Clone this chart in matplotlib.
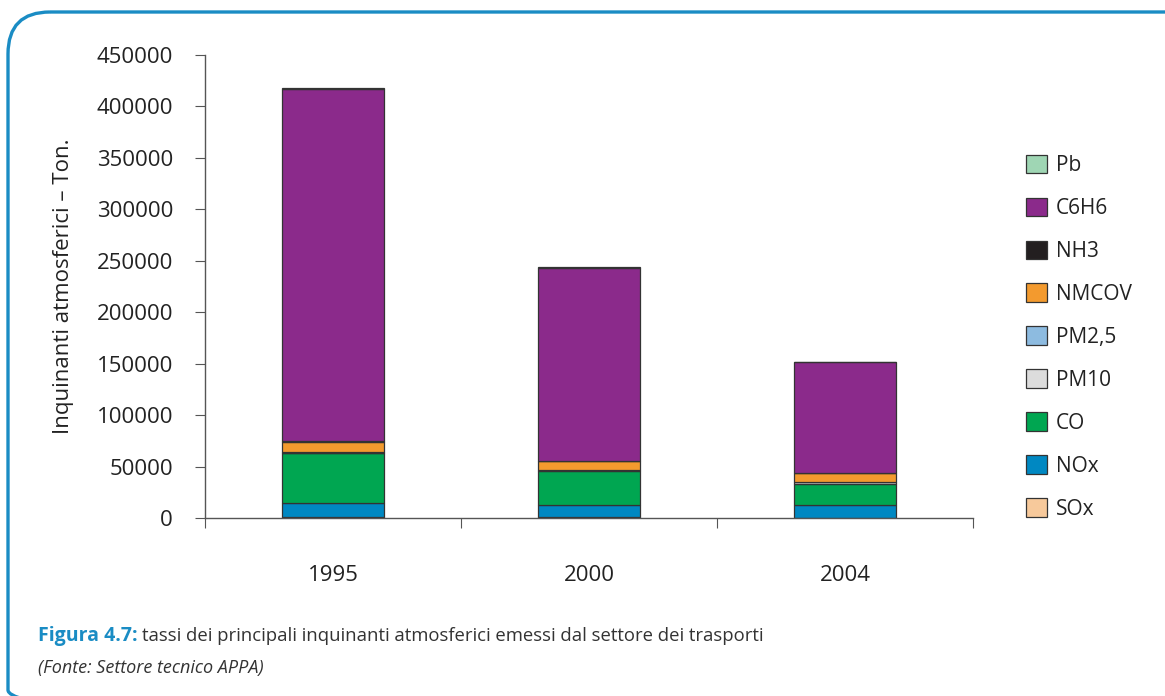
import matplotlib
matplotlib.use("Agg")
import matplotlib.pyplot as plt
import numpy
from matplotlib.patches import FancyBboxPatch

plt.rcParams['font.family'] = ['Open Sans', 'DejaVu Sans']

# data (tonnes)
years = ['1995', '2000', '2004']
pollutants = ['SOx', 'NOx', 'CO', 'PM10', 'PM2,5', 'NMCOV', 'NH3', 'C6H6', 'Pb']
sox = [800, 500, 400]
nox = [14000, 12000, 12000]
co = [48000, 33000, 20500]
pm10 = [800, 700, 1800]
pm25 = [700, 600, 600]
nmcov = [10000, 8500, 8000]
nh3 = [600, 500, 300]
c6h6 = [342000, 187000, 108000]
pb = [1000, 1200, 100]
series = [sox, nox, co, pm10, pm25, nmcov, nh3, c6h6, pb]

colors = ['#f7c99b', '#0088c2', '#00a651', '#dcdcdc', '#8dbbe0',
          '#f39a2e', '#231f20', '#8b2a8b', '#9fd6b4']

W, H = 1165, 696
fig = plt.figure(figsize=(W / 100, H / 100), dpi=100)

# blue rounded frame
frame = fig.add_axes([0, 0, 1, 1])
frame.set_xlim(0, W)
frame.set_ylim(H, 0)
frame.axis('off')
frame.add_patch(FancyBboxPatch((8, 12), 1200, 720, boxstyle='round,pad=0,rounding_size=42',
                               facecolor='none', edgecolor='#1a8cc4', linewidth=2.4))

ax = fig.add_axes([205 / W, 1 - 518 / H, 768 / W, 463 / H])
x = numpy.arange(len(years))
bottom = numpy.zeros(len(years))
for name, values, color in zip(pollutants, series, colors):
    ax.bar(x, values, 0.4, bottom=bottom, color=color, edgecolor='#333333',
           linewidth=0.9, label=name)
    bottom += numpy.array(values)

ax.set_xlim(-0.5, 2.5)
ax.set_ylim(0, 450000)
ax.set_yticks(numpy.arange(0, 450001, 50000))
ax.set_xticks([-0.5, 0.5, 1.5, 2.5])
ax.set_xticklabels([])
ax.set_xticks(x, minor=True)
ax.set_xticklabels(years, minor=True, fontsize=16, color='#222222')
ax.tick_params(axis='x', which='minor', length=0, pad=34)
ax.tick_params(axis='x', which='major', direction='out', length=7, color='#555555')
ax.tick_params(axis='y', direction='out', length=7, pad=16, labelsize=16,
               color='#555555', labelcolor='#222222')
for side in ['top', 'right']:
    ax.spines[side].set_visible(False)
for side in ['left', 'bottom']:
    ax.spines[side].set_color('#555555')
    ax.spines[side].set_linewidth(1.0)
ax.set_ylabel('Inquinanti atmosferici – Ton.', fontsize=16, color='#222222', labelpad=16)

handles, labels = ax.get_legend_handles_labels()
leg = fig.legend(handles[::-1], labels[::-1], loc='upper left',
                 bbox_to_anchor=(1007 / W, 1 - 136 / H), frameon=False,
                 fontsize=15, handlelength=1.0, handleheight=1.0,
                 labelspacing=1.03, handletextpad=0.45, labelcolor='#222222')

fig.text(38 / W, 1 - 636 / H, 'Figura 4.7:', fontsize=14, fontweight='bold',
         color='#1a8cc4', va='center')
fig.text(142 / W, 1 - 636 / H,
         'tassi dei principali inquinanti atmosferici emessi dal settore dei trasporti',
         fontsize=13.3, color='#333333', va='center')
fig.text(38 / W, 1 - 668 / H, '(Fonte: Settore tecnico APPA)', fontsize=13,
         style='italic', color='#333333', va='center')

fig.savefig('out.png', dpi=100)
